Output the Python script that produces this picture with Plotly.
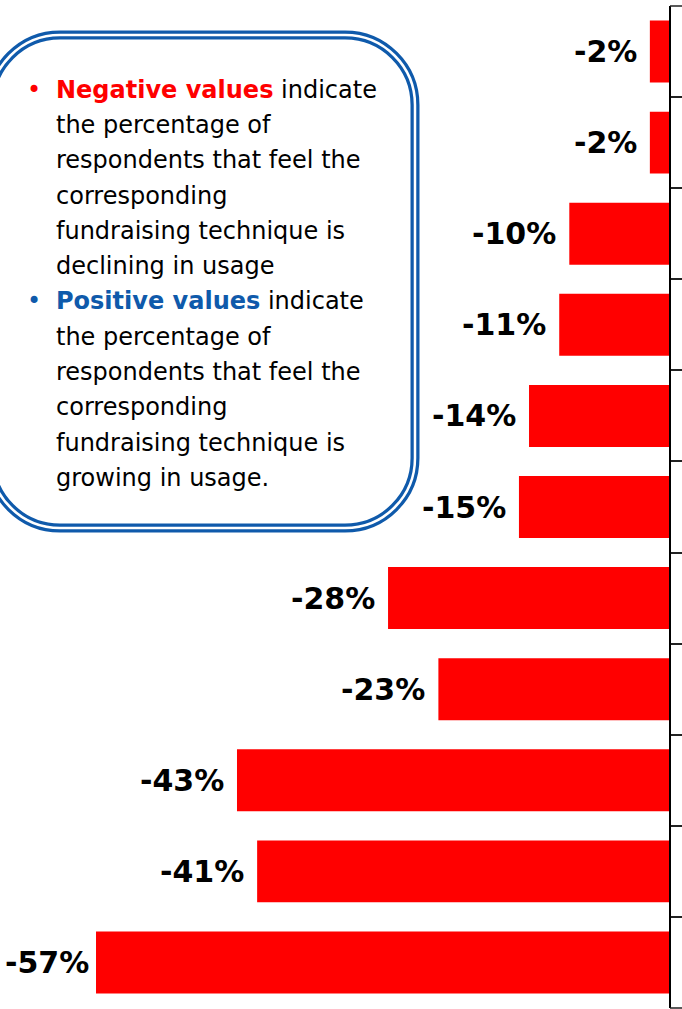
import plotly.graph_objects as go

# Net change in usage per fundraising technique (percent of respondents), top to bottom
techniques = [
    "Technique 1", "Technique 2", "Technique 3", "Technique 4", "Technique 5",
    "Technique 6", "Technique 7", "Technique 8", "Technique 9", "Technique 10",
    "Technique 11",
]
net_change = [-2, -2, -10, -11, -14, -15, -28, -23, -43, -41, -57]
value_labels = ["-2%", "-2%", "-10%", "-11%", "-14%", "-15%", "-28%", "-23%", "-43%", "-41%", "-57%"]

# Explanatory note: (segment text, colour, bold) per line
note_lines = [
    [("Negative values", "#ff0000", True), (" indicate", "#000000", False)],
    [("the percentage of", "#000000", False)],
    [("respondents that feel the", "#000000", False)],
    [("corresponding", "#000000", False)],
    [("fundraising technique is", "#000000", False)],
    [("declining in usage", "#000000", False)],
    [("Positive values", "#0f5aab", True), (" indicate", "#000000", False)],
    [("the percentage of", "#000000", False)],
    [("respondents that feel the", "#000000", False)],
    [("corresponding", "#000000", False)],
    [("fundraising technique is", "#000000", False)],
    [("growing in usage.", "#000000", False)],
]
bullet_rows = {0: "#ff0000", 6: "#0f5aab"}

W, H = 682, 1009
M_L, M_R, M_T, M_B = 0, 0, 6, 1
PLOT_W = W - M_L - M_R
PLOT_H = H - M_T - M_B
PX_PER_UNIT = 10.07
ZERO_PX = 670
X_RANGE = [-(ZERO_PX - M_L) / PX_PER_UNIT, (W - M_R - ZERO_PX) / PX_PER_UNIT]
N_CAT = len(techniques)

BLUE = "#0f5aab"
RED = "#ff0000"
TEXT_FONT = "DejaVu Sans"


def px_x(px):
    return (px - M_L) / PLOT_W


def px_y(py):
    return (H - M_B - py) / PLOT_H


fig = go.Figure()
fig.add_trace(go.Bar(
    x=net_change,
    y=techniques,
    orientation="h",
    marker=dict(color=RED, line=dict(width=0)),
    hoverinfo="skip",
))

# Value labels, right-aligned just left of each bar end
LABEL_SIZE = 30
GLYPH_W = {"-": 0.411, "%": 1.002}
for v, lab, cat in zip(net_change, value_labels, techniques):
    text_w = sum(GLYPH_W.get(ch, 0.696) for ch in lab) * LABEL_SIZE
    bar_end_px = ZERO_PX + v * PX_PER_UNIT
    gap = min(11, bar_end_px - text_w - 7)
    fig.add_annotation(
        x=v, y=cat, xref="x", yref="y",
        text=f"<b>{lab}</b>", showarrow=False,
        xanchor="right", yanchor="middle", xshift=-gap,
        font=dict(family=TEXT_FONT, size=LABEL_SIZE, color="#000000"),
    )

# Outer category-boundary ticks at the top and bottom of the axis
for yb in (0, 1):
    fig.add_shape(type="line", xref="x", yref="paper",
                  x0=0, x1=X_RANGE[1], y0=yb, y1=yb,
                  line=dict(color="#222222", width=1.5))

# Rounded note frame drawn as a double blue line
def rounded_rect(x0, y0, x1, y1, r):
    k = 0.5523 * r
    pts = [
        f"M {px_x(x0 + r)},{px_y(y0)}",
        f"L {px_x(x1 - r)},{px_y(y0)}",
        f"C {px_x(x1 - r + k)},{px_y(y0)} {px_x(x1)},{px_y(y0 + r - k)} {px_x(x1)},{px_y(y0 + r)}",
        f"L {px_x(x1)},{px_y(y1 - r)}",
        f"C {px_x(x1)},{px_y(y1 - r + k)} {px_x(x1 - r + k)},{px_y(y1)} {px_x(x1 - r)},{px_y(y1)}",
        f"L {px_x(x0 + r)},{px_y(y1)}",
        f"C {px_x(x0 + r - k)},{px_y(y1)} {px_x(x0)},{px_y(y1 - r + k)} {px_x(x0)},{px_y(y1 - r)}",
        f"L {px_x(x0)},{px_y(y0 + r)}",
        f"C {px_x(x0)},{px_y(y0 + r - k)} {px_x(x0 + r - k)},{px_y(y0)} {px_x(x0 + r)},{px_y(y0)}",
        "Z",
    ]
    return " ".join(pts)


frame = rounded_rect(-10, 35, 415, 528, 70)
fig.add_shape(type="path", path=frame, xref="paper", yref="paper",
              line=dict(color=BLUE, width=9), fillcolor="white", layer="below")
fig.add_shape(type="path", path=frame, xref="paper", yref="paper",
              line=dict(color="white", width=2.5), layer="below")

# Note text, one annotation per line
NOTE_SIZE = 24
FIRST_BASELINE = 98
LINE_STEP = 35.3
for i, segs in enumerate(note_lines):
    baseline = FIRST_BASELINE + i * LINE_STEP
    cy = baseline - 0.346 * NOTE_SIZE
    html = "".join(
        f"<span style='color:{c}'>{'<b>' + t + '</b>' if b else t}</span>" for t, c, b in segs
    )
    fig.add_annotation(
        x=px_x(54), y=px_y(cy), xref="paper", yref="paper",
        text=html, showarrow=False, xanchor="left", yanchor="middle",
        font=dict(family=TEXT_FONT, size=NOTE_SIZE, color="#000000"),
    )
    if i in bullet_rows:
        fig.add_annotation(
            x=px_x(34), y=px_y(cy), xref="paper", yref="paper",
            text="•", showarrow=False, xanchor="center", yanchor="middle",
            font=dict(family=TEXT_FONT, size=NOTE_SIZE, color=bullet_rows[i]),
        )

fig.update_layout(
    width=W, height=H,
    margin=dict(l=M_L, r=M_R, t=M_T, b=M_B, pad=0),
    paper_bgcolor="white", plot_bgcolor="white",
    showlegend=False,
    bargap=0.32,
    xaxis=dict(range=X_RANGE, visible=False, fixedrange=True),
    yaxis=dict(
        type="category", range=[N_CAT - 0.5, -0.5],
        anchor="free", position=px_x(ZERO_PX),
        showline=True, linecolor="#000000", linewidth=2,
        ticks="inside", tickson="boundaries", ticklen=20,
        tickcolor="#222222", tickwidth=1.5,
        showticklabels=False, showgrid=False, zeroline=False,
        fixedrange=True,
    ),
)

fig.write_html("out.html")
